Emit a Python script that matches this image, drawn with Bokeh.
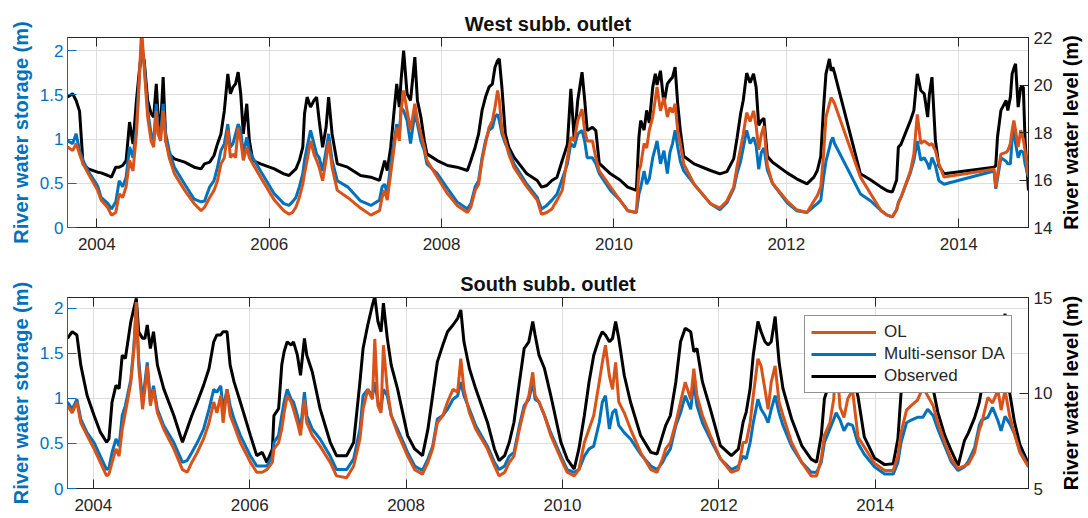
import math
from bokeh.plotting import figure
from bokeh.models import Range1d, LinearAxis, FixedTicker, Legend, LegendItem, Label
from bokeh.layouts import column
from bokeh.embed import file_html
from bokeh.resources import INLINE

# ---------------- data ----------------
x_ticks = [2004, 2006, 2008, 2010, 2012, 2014]
x_tick_labels = ["2004", "2006", "2008", "2010", "2012", "2014"]
storage_ticks = [0, 0.5, 1, 1.5, 2]
storage_tick_labels = ["0", "0.5", "1", "1.5", "2"]
west_level_ticks = [14, 16, 18, 20, 22]
west_level_tick_labels = ["14", "16", "18", "20", "22"]
south_level_ticks = [5, 10, 15]
south_level_tick_labels = ["5", "10", "15"]
series_names = ["OL", "Multi-sensor DA", "Observed"]

# West sub-basin outlet
west_t = [
    2003.66, 2003.72, 2003.76, 2003.80, 2003.84, 2003.90, 2004.01, 2004.05, 2004.13, 2004.17,
    2004.22, 2004.26, 2004.30, 2004.34, 2004.38, 2004.42, 2004.46, 2004.49, 2004.52, 2004.55,
    2004.59, 2004.63, 2004.66, 2004.69, 2004.71, 2004.74, 2004.77, 2004.80, 2004.84, 2004.90,
    2005.02, 2005.13, 2005.21, 2005.25, 2005.31, 2005.36, 2005.40, 2005.44, 2005.48, 2005.52,
    2005.55, 2005.58, 2005.61, 2005.64, 2005.67, 2005.70, 2005.74, 2005.77, 2005.81, 2005.90,
    2006.06, 2006.17, 2006.23, 2006.27, 2006.31, 2006.35, 2006.39, 2006.41, 2006.44, 2006.48,
    2006.52, 2006.55, 2006.58, 2006.62, 2006.66, 2006.69, 2006.73, 2006.79, 2006.91, 2007.06,
    2007.18, 2007.28, 2007.31, 2007.34, 2007.37, 2007.41, 2007.45, 2007.48, 2007.51, 2007.53,
    2007.56, 2007.60, 2007.64, 2007.69, 2007.72, 2007.76, 2007.80, 2007.83, 2007.95, 2008.07,
    2008.18, 2008.30, 2008.34, 2008.39, 2008.43, 2008.47, 2008.51, 2008.55, 2008.59, 2008.62,
    2008.65, 2008.67, 2008.70, 2008.74, 2008.78, 2008.84, 2008.99, 2009.11, 2009.16, 2009.22,
    2009.28, 2009.34, 2009.40, 2009.46, 2009.50, 2009.54, 2009.58, 2009.63, 2009.66, 2009.69,
    2009.75, 2009.79, 2009.83, 2009.96, 2010.07, 2010.16, 2010.26, 2010.29, 2010.31, 2010.35,
    2010.38, 2010.41, 2010.45, 2010.48, 2010.50, 2010.54, 2010.58, 2010.62, 2010.65, 2010.68,
    2010.71, 2010.74, 2010.77, 2010.81, 2010.93, 2011.12, 2011.23, 2011.31, 2011.39, 2011.43,
    2011.47, 2011.50, 2011.54, 2011.58, 2011.62, 2011.65, 2011.68, 2011.71, 2011.74, 2011.78,
    2011.84, 2012.01, 2012.12, 2012.24, 2012.32, 2012.36, 2012.40, 2012.43, 2012.46, 2012.50,
    2012.52, 2012.54, 2012.56, 2012.86, 2012.98, 2013.10, 2013.17, 2013.23, 2013.28, 2013.30,
    2013.33, 2013.44, 2013.48, 2013.52, 2013.56, 2013.60, 2013.64, 2013.66, 2013.69, 2013.73,
    2013.77, 2013.83, 2014.41, 2014.43, 2014.45, 2014.49, 2014.55, 2014.57, 2014.60, 2014.62,
    2014.64, 2014.66, 2014.69, 2014.72, 2014.75, 2014.77, 2014.81,
]
west_ol = [
    0.91, 0.87, 0.95, 0.83, 0.72, 0.61, 0.42, 0.31, 0.22, 0.14,
    0.17, 0.38, 0.34, 0.46, 0.76, 0.64, 1.06, 1.62, 2.25, 1.81,
    1.25, 0.98, 0.91, 1.32, 1.06, 0.98, 1.32, 0.98, 0.79, 0.61,
    0.42, 0.27, 0.19, 0.23, 0.34, 0.42, 0.53, 0.72, 0.79, 1.10,
    0.79, 0.83, 0.79, 1.13, 0.98, 0.76, 0.91, 0.79, 0.72, 0.57,
    0.31, 0.19, 0.15, 0.17, 0.23, 0.34, 0.49, 0.61, 0.76, 0.98,
    0.83, 0.76, 0.68, 0.53, 0.76, 0.98, 0.68, 0.42, 0.34, 0.22,
    0.14, 0.19, 0.34, 0.42, 0.31, 0.61, 0.91, 1.13, 0.98, 1.32,
    1.55, 1.32, 1.10, 1.40, 1.21, 1.06, 0.91, 0.76, 0.57, 0.38,
    0.25, 0.17, 0.23, 0.42, 0.49, 0.76, 0.95, 1.13, 1.21, 1.36,
    1.55, 1.44, 1.10, 0.98, 0.83, 0.68, 0.46, 0.31, 0.15, 0.17,
    0.21, 0.31, 0.42, 0.79, 1.02, 0.98, 1.21, 1.34, 1.10, 0.98,
    0.98, 0.79, 0.64, 0.46, 0.31, 0.19, 0.17, 0.64, 0.70, 0.95,
    0.90, 1.10, 1.25, 1.45, 1.59, 1.32, 1.47, 1.25, 1.36, 1.30,
    1.40, 1.10, 0.95, 0.72, 0.49, 0.27, 0.22, 0.30, 0.46, 0.70,
    0.90, 1.05, 1.30, 1.20, 1.32, 1.15, 0.88, 1.05, 1.15, 0.70,
    0.50, 0.30, 0.20, 0.17, 0.30, 0.36, 0.46, 0.80, 1.25, 1.40,
    1.47, 1.44, 1.40, 0.57, 0.38, 0.19, 0.14, 0.12, 0.20, 0.28,
    0.34, 0.64, 0.83, 1.28, 0.95, 0.98, 0.95, 0.93, 0.95, 0.87,
    0.72, 0.57, 0.66, 0.46, 0.60, 0.83, 0.85, 0.87, 0.95, 1.10,
    1.21, 1.10, 0.91, 1.10, 1.00, 0.87, 0.57,
]
west_da = [
    0.98, 0.95, 1.06, 0.87, 0.76, 0.64, 0.47, 0.34, 0.27, 0.21,
    0.29, 0.53, 0.46, 0.57, 0.91, 0.79, 1.13, 1.66, 2.10, 1.85,
    1.32, 1.06, 0.98, 1.40, 1.13, 1.06, 1.40, 1.06, 0.87, 0.68,
    0.49, 0.32, 0.29, 0.30, 0.46, 0.53, 0.68, 0.87, 0.95, 1.17,
    0.91, 0.95, 1.06, 1.17, 1.10, 0.83, 1.02, 0.87, 0.79, 0.64,
    0.38, 0.27, 0.25, 0.29, 0.34, 0.46, 0.61, 0.76, 0.91, 1.10,
    0.95, 0.83, 0.79, 0.64, 0.87, 1.06, 0.76, 0.53, 0.46, 0.30,
    0.25, 0.31, 0.46, 0.49, 0.38, 0.72, 0.98, 1.17, 1.02, 1.36,
    1.32, 1.21, 0.95, 1.30, 1.17, 0.98, 0.87, 0.72, 0.61, 0.44,
    0.29, 0.21, 0.27, 0.46, 0.53, 0.79, 0.98, 1.10, 1.13, 1.25,
    1.28, 1.21, 1.06, 0.95, 0.87, 0.72, 0.49, 0.34, 0.21, 0.25,
    0.31, 0.38, 0.55, 0.72, 0.95, 0.91, 1.06, 1.10, 0.98, 0.79,
    0.79, 0.72, 0.61, 0.42, 0.31, 0.19, 0.17, 0.38, 0.45, 0.64,
    0.49, 0.55, 0.79, 0.90, 0.98, 0.72, 0.87, 0.61, 0.85, 0.95,
    1.10, 0.91, 0.75, 0.64, 0.49, 0.27, 0.20, 0.28, 0.44, 0.62,
    0.75, 0.90, 1.10, 0.95, 1.02, 0.92, 0.66, 0.85, 0.90, 0.65,
    0.50, 0.28, 0.19, 0.17, 0.24, 0.27, 0.31, 0.55, 0.75, 0.90,
    0.98, 1.02, 0.95, 0.38, 0.30, 0.19, 0.14, 0.12, 0.20, 0.28,
    0.34, 0.62, 0.76, 0.98, 0.76, 0.79, 0.72, 0.66, 0.79, 0.70,
    0.53, 0.49, 0.64, 0.44, 0.55, 0.79, 0.75, 0.72, 0.72, 1.00,
    1.10, 0.95, 0.79, 0.87, 0.85, 0.72, 0.57,
]
west_obs = [
    19.49, 19.63, 19.35, 18.90, 16.68, 16.47, 16.33, 16.30, 16.19, 16.12,
    16.54, 16.54, 16.61, 16.82, 18.44, 17.52, 19.35, 20.47, 21.45, 21.03,
    19.35, 18.79, 18.65, 20.05, 18.79, 18.22, 20.33, 17.66, 17.10, 16.89,
    16.75, 16.54, 16.47, 16.68, 16.75, 17.03, 17.52, 17.94, 18.93, 20.47,
    19.63, 19.91, 20.05, 20.54, 19.63, 17.94, 19.21, 17.66, 16.82, 16.68,
    16.47, 16.26, 16.19, 16.33, 16.47, 16.82, 17.38, 18.79, 19.49, 19.07,
    19.35, 19.49, 18.51, 17.38, 18.22, 19.49, 17.94, 16.68, 16.54, 16.19,
    16.12, 15.98, 16.40, 16.82, 16.40, 17.38, 18.93, 20.05, 19.07, 20.19,
    21.45, 19.63, 19.35, 21.17, 19.35, 18.65, 17.66, 17.10, 16.82, 16.61,
    16.54, 16.40, 16.82, 17.38, 17.94, 18.93, 19.49, 19.91, 20.05, 20.75,
    21.03, 21.10, 19.91, 17.94, 17.38, 16.96, 16.26, 15.98, 15.70, 15.77,
    15.98, 16.12, 16.82, 17.50, 19.84, 17.66, 19.35, 20.54, 19.40, 18.08,
    18.22, 18.08, 16.70, 16.26, 16.00, 15.70, 15.56, 17.80, 18.50, 18.10,
    18.93, 18.40, 19.90, 20.47, 20.00, 20.60, 19.20, 20.05, 20.20, 20.33,
    20.75, 19.20, 18.10, 17.00, 16.68, 16.40, 16.26, 16.35, 16.90, 17.80,
    18.80, 19.35, 20.50, 20.10, 20.47, 19.90, 18.30, 18.50, 18.60, 17.00,
    16.75, 16.30, 16.05, 15.84, 16.12, 16.40, 17.00, 18.93, 20.47, 21.10,
    20.60, 20.75, 20.50, 16.26, 16.00, 15.70, 15.55, 15.49, 16.00, 17.38,
    17.50, 18.50, 18.93, 20.47, 19.77, 19.63, 18.65, 19.60, 20.33, 17.66,
    16.60, 16.26, 16.54, 16.60, 17.80, 18.93, 19.35, 18.93, 19.50, 20.47,
    20.70, 20.89, 19.07, 19.91, 19.91, 17.66, 15.56,
]

# South sub-basin outlet
south_t = [
    2003.67, 2003.73, 2003.79, 2003.84, 2003.92, 2004.01, 2004.09, 2004.17, 2004.20, 2004.24,
    2004.29, 2004.33, 2004.37, 2004.41, 2004.48, 2004.52, 2004.55, 2004.58, 2004.63, 2004.66,
    2004.69, 2004.73, 2004.77, 2004.82, 2004.90, 2005.03, 2005.14, 2005.20, 2005.26, 2005.33,
    2005.41, 2005.48, 2005.54, 2005.58, 2005.63, 2005.66, 2005.71, 2005.75, 2005.80, 2005.88,
    2006.01, 2006.09, 2006.16, 2006.22, 2006.29, 2006.31, 2006.37, 2006.41, 2006.44, 2006.48,
    2006.53, 2006.56, 2006.61, 2006.65, 2006.70, 2006.73, 2006.80, 2006.90, 2007.03, 2007.11,
    2007.24, 2007.33, 2007.41, 2007.45, 2007.51, 2007.57, 2007.60, 2007.64, 2007.68, 2007.71,
    2007.76, 2007.81, 2007.89, 2008.02, 2008.11, 2008.21, 2008.28, 2008.34, 2008.40, 2008.47,
    2008.53, 2008.60, 2008.66, 2008.70, 2008.74, 2008.81, 2008.89, 2009.04, 2009.13, 2009.19,
    2009.26, 2009.32, 2009.38, 2009.45, 2009.51, 2009.57, 2009.62, 2009.65, 2009.70, 2009.77,
    2009.85, 2009.98, 2010.06, 2010.15, 2010.21, 2010.28, 2010.34, 2010.40, 2010.47, 2010.51,
    2010.55, 2010.60, 2010.64, 2010.68, 2010.72, 2010.79, 2010.87, 2011.00, 2011.13, 2011.21,
    2011.28, 2011.32, 2011.38, 2011.45, 2011.51, 2011.57, 2011.64, 2011.68, 2011.72, 2011.79,
    2011.89, 2012.02, 2012.16, 2012.25, 2012.31, 2012.35, 2012.40, 2012.44, 2012.50, 2012.54,
    2012.59, 2012.63, 2012.67, 2012.72, 2012.77, 2012.82, 2012.93, 2013.06, 2013.18, 2013.25,
    2013.31, 2013.35, 2013.42, 2013.47, 2013.50, 2013.55, 2013.60, 2013.65, 2013.71, 2013.78,
    2013.86, 2013.99, 2014.12, 2014.23, 2014.29, 2014.33, 2014.40, 2014.46, 2014.54, 2014.61,
    2014.67, 2014.74, 2014.80, 2014.89, 2014.97, 2015.06, 2015.14, 2015.19, 2015.27, 2015.33,
    2015.36, 2015.44, 2015.50, 2015.57, 2015.61, 2015.66, 2015.72, 2015.78, 2015.85, 2015.96,
]
south_ol = [
    0.92, 0.84, 0.96, 0.73, 0.59, 0.44, 0.29, 0.14, 0.16, 0.29,
    0.44, 0.36, 0.66, 0.84, 1.18, 1.55, 2.07, 1.36, 0.88, 1.10,
    1.36, 0.92, 1.10, 0.84, 0.66, 0.44, 0.21, 0.18, 0.29, 0.40,
    0.55, 0.73, 0.96, 0.84, 1.03, 0.73, 1.10, 0.81, 0.70, 0.51,
    0.29, 0.18, 0.18, 0.21, 0.29, 0.44, 0.51, 0.66, 0.84, 1.03,
    0.96, 0.88, 0.73, 0.59, 0.99, 0.73, 0.59, 0.47, 0.29, 0.14,
    0.12, 0.25, 0.55, 0.88, 1.10, 0.99, 1.66, 0.92, 0.84, 1.59,
    1.10, 0.81, 0.62, 0.36, 0.21, 0.16, 0.29, 0.44, 0.73, 0.81,
    0.96, 1.10, 1.07, 1.44, 1.10, 0.84, 0.66, 0.44, 0.25, 0.14,
    0.18, 0.29, 0.36, 0.66, 0.88, 1.03, 1.29, 1.03, 0.96, 0.81,
    0.59, 0.33, 0.18, 0.14, 0.21, 0.51, 0.66, 0.81, 1.18, 1.40,
    1.59, 1.25, 1.10, 1.40, 0.96, 0.84, 0.66, 0.40, 0.21, 0.18,
    0.33, 0.44, 0.51, 0.73, 0.96, 1.18, 0.99, 1.33, 1.03, 0.81,
    0.59, 0.33, 0.18, 0.21, 0.51, 0.51, 0.73, 1.03, 1.44, 1.36,
    1.10, 0.88, 1.18, 1.36, 0.96, 0.81, 0.51, 0.29, 0.14, 0.14,
    0.33, 0.59, 0.73, 1.00, 1.47, 0.90, 0.79, 1.00, 1.09, 0.57,
    0.46, 0.28, 0.20, 0.20, 0.36, 0.62, 0.87, 0.92, 0.98, 1.12,
    1.03, 0.92, 0.73, 0.51, 0.33, 0.22, 0.25, 0.27, 0.40, 0.65,
    0.72, 1.01, 0.95, 1.09, 0.87, 1.09, 0.80, 0.61, 0.40, 0.24,
]
south_da = [
    0.96, 0.88, 0.99, 0.77, 0.62, 0.51, 0.36, 0.21, 0.23, 0.40,
    0.55, 0.47, 0.81, 0.92, 1.21, 1.59, 2.03, 1.44, 0.96, 1.18,
    1.40, 0.96, 1.14, 0.88, 0.70, 0.51, 0.29, 0.31, 0.40, 0.51,
    0.66, 0.88, 1.10, 1.07, 1.14, 0.88, 1.10, 0.92, 0.77, 0.59,
    0.36, 0.25, 0.25, 0.25, 0.36, 0.51, 0.59, 0.81, 0.96, 1.10,
    0.99, 0.96, 0.81, 0.66, 1.07, 0.81, 0.66, 0.55, 0.36, 0.21,
    0.21, 0.33, 0.66, 1.03, 1.10, 1.03, 1.18, 0.96, 0.88, 1.10,
    1.03, 0.81, 0.66, 0.40, 0.25, 0.20, 0.33, 0.47, 0.77, 0.81,
    0.88, 0.99, 1.03, 1.18, 1.03, 0.88, 0.70, 0.47, 0.29, 0.21,
    0.25, 0.36, 0.40, 0.70, 0.92, 0.99, 1.18, 0.99, 0.96, 0.81,
    0.62, 0.36, 0.21, 0.18, 0.21, 0.36, 0.44, 0.47, 0.73, 0.96,
    1.03, 0.66, 0.84, 0.88, 0.70, 0.62, 0.55, 0.38, 0.25, 0.21,
    0.29, 0.36, 0.44, 0.70, 0.84, 1.03, 0.88, 1.18, 0.92, 0.73,
    0.55, 0.33, 0.21, 0.25, 0.36, 0.33, 0.51, 0.73, 0.99, 0.88,
    0.81, 0.73, 0.88, 1.03, 0.84, 0.70, 0.47, 0.29, 0.18, 0.18,
    0.29, 0.51, 0.66, 0.77, 0.84, 0.76, 0.64, 0.72, 0.70, 0.50,
    0.38, 0.24, 0.16, 0.16, 0.29, 0.51, 0.73, 0.76, 0.79, 0.79,
    0.88, 0.81, 0.66, 0.47, 0.30, 0.20, 0.24, 0.30, 0.45, 0.70,
    0.76, 0.79, 0.90, 0.75, 0.64, 0.80, 0.72, 0.61, 0.42, 0.25,
]
south_obs = [
    12.86, 13.21, 13.04, 11.46, 9.88, 8.82, 7.95, 7.42, 7.60, 9.53,
    10.40, 10.23, 11.98, 11.81, 13.74, 14.44, 14.96, 13.21, 12.86, 12.86,
    13.56, 12.33, 13.21, 11.46, 10.23, 8.82, 7.42, 8.12, 8.82, 9.53,
    10.40, 11.28, 12.68, 13.04, 13.04, 13.21, 13.21, 11.46, 10.58, 9.53,
    7.77, 6.72, 6.89, 6.37, 7.07, 8.82, 9.18, 11.46, 12.16, 12.68,
    12.51, 12.68, 11.98, 10.93, 12.86, 11.98, 11.11, 9.18, 7.42, 6.72,
    6.72, 7.42, 10.58, 12.33, 13.56, 14.61, 15.05, 13.74, 13.21, 14.70,
    12.86, 11.46, 10.23, 7.77, 7.07, 6.72, 8.12, 9.88, 11.63, 12.51,
    13.21, 13.56, 13.91, 14.35, 12.68, 11.28, 10.23, 8.47, 7.07, 6.46,
    6.72, 7.42, 8.47, 10.58, 12.33, 12.68, 13.74, 13.04, 11.98, 11.28,
    9.88, 7.42, 6.54, 6.02, 7.07, 8.82, 10.58, 11.98, 12.86, 13.21,
    13.04, 12.68, 12.86, 13.74, 12.86, 10.93, 9.53, 7.77, 6.89, 6.81,
    7.77, 8.30, 8.82, 10.58, 12.68, 13.39, 13.21, 12.16, 12.33, 10.58,
    9.18, 7.25, 6.72, 7.07, 8.47, 9.00, 10.23, 11.98, 13.74, 13.21,
    12.68, 12.51, 12.68, 14.00, 11.63, 10.23, 8.65, 7.25, 6.54, 6.37,
    7.77, 9.70, 10.60, 11.80, 12.50, 13.00, 12.60, 12.00, 11.00, 9.80,
    7.70, 6.60, 6.25, 6.30, 7.60, 10.00, 12.00, 13.00, 13.80, 13.50,
    12.80, 10.23, 9.00, 7.77, 7.00, 6.20, 7.50, 7.90, 8.70, 9.50,
    10.20, 12.00, 13.00, 13.50, 13.00, 14.15, 10.00, 8.50, 7.30, 6.30,
]

# ---------------- styling ----------------
BLUE = "#0072BD"
ORANGE = "#D95319"
DARK = "#262626"
GRID = "#dedede"
FONT = "Liberation Sans"
LW = 3
FIG_W = 1088
BORDER_L = 67
BORDER_R = 60


def style_axis(ax, color, ticks, labels, tick_size="17px", standoff=4):
    ax.ticker = FixedTicker(ticks=ticks)
    ax.major_label_overrides = {t: l for t, l in zip(ticks, labels)}
    ax.axis_line_color = color
    ax.axis_line_width = 1
    ax.major_tick_line_color = color
    ax.major_tick_in = 9
    ax.major_tick_out = 0
    ax.minor_tick_line_color = None
    ax.major_label_text_color = color
    ax.major_label_text_font = FONT
    ax.major_label_text_font_size = tick_size
    ax.major_label_standoff = standoff
    ax.axis_label_text_color = color
    ax.axis_label_text_font = FONT
    ax.axis_label_text_font_size = "20px"
    ax.axis_label_text_font_style = "bold"


def make_panel(title, t, ol, da, obs, x_start, x_end, y_top, lvl_range, lvl_ticks,
               lvl_labels, height, border_top, border_bottom, with_legend):
    p = figure(width=FIG_W, height=height, output_backend="svg", toolbar_location=None,
               x_range=Range1d(x_start, x_end), y_range=Range1d(0, y_top),
               min_border_left=BORDER_L, min_border_right=BORDER_R,
               min_border_top=border_top, min_border_bottom=border_bottom,
               background_fill_color="white", border_fill_color="white")
    p.extra_y_ranges = {"lvl": Range1d(*lvl_range)}

    p.title.text = title
    p.title.align = "center"
    p.title.text_font = FONT
    p.title.text_font_size = "20px"
    p.title.text_font_style = "bold"
    p.title.text_color = "#111111"
    p.title.standoff = 6

    p.outline_line_color = DARK
    p.outline_line_width = 1

    # bottom (x) axis
    xax = p.xaxis[0]
    style_axis(xax, DARK, x_ticks, x_tick_labels, standoff=10)
    # left (storage) axis
    yax = p.yaxis[0]
    style_axis(yax, BLUE, storage_ticks, storage_tick_labels, standoff=4)
    yax.axis_label = "River water storage (m)"
    yax.axis_label_standoff = 5

    # right (level) axis
    rax = LinearAxis(y_range_name="lvl")
    style_axis(rax, DARK, lvl_ticks, lvl_labels, standoff=5)
    p.add_layout(rax, "right")
    # right-hand title, rotated to read bottom-to-top, placed in the right side panel
    p.add_layout(Label(x=15, y=y_top / 2, x_units="screen", y_units="data",
                       text="River water level (m)", angle=math.pi / 2,
                       text_align="center", text_baseline="middle",
                       text_font=FONT, text_font_size="20px", text_font_style="bold",
                       text_color="#000000"), "right")

    # top axis: tick marks only
    tax = LinearAxis()
    style_axis(tax, DARK, x_ticks, x_tick_labels, tick_size="0px", standoff=0)
    tax.major_label_text_alpha = 0
    p.add_layout(tax, "above")

    p.xgrid.ticker = FixedTicker(ticks=x_ticks)
    p.ygrid.ticker = FixedTicker(ticks=storage_ticks)
    p.xgrid.grid_line_color = GRID
    p.ygrid.grid_line_color = GRID

    r_obs = p.line(t, obs, y_range_name="lvl", line_color="black", line_width=LW)
    r_da = p.line(t, da, line_color=BLUE, line_width=LW)
    r_ol = p.line(t, ol, line_color=ORANGE, line_width=LW)

    if with_legend:
        legend = Legend(items=[LegendItem(label=series_names[0], renderers=[r_ol]),
                               LegendItem(label=series_names[1], renderers=[r_da]),
                               LegendItem(label=series_names[2], renderers=[r_obs])],
                        location=(737, 95))
        legend.border_line_color = DARK
        legend.border_line_width = 1
        legend.background_fill_color = "white"
        legend.background_fill_alpha = 1
        legend.label_text_font = FONT
        legend.label_text_font_size = "17px"
        legend.label_text_color = DARK
        legend.glyph_width = 65
        legend.glyph_height = 20
        legend.label_height = 20
        legend.spacing = 2
        legend.padding = 6
        legend.margin = 0
        legend.label_standoff = 8
        p.add_layout(legend)
    return p


p1 = make_panel("West subb. outlet", west_t, west_ol, west_da, west_obs,
                2003.66, 2014.81, 2.15, (14, 22), west_level_ticks, west_level_tick_labels,
                height=262, border_top=37, border_bottom=35, with_legend=False)
p2 = make_panel("South subb. outlet", south_t, south_ol, south_da, south_obs,
                2003.67, 2015.96, 2.12, (5, 15), south_level_ticks, south_level_tick_labels,
                height=254, border_top=35, border_bottom=28, with_legend=True)

layout = column(p1, p2)
open("out.html", "w").write(file_html(layout, INLINE))
